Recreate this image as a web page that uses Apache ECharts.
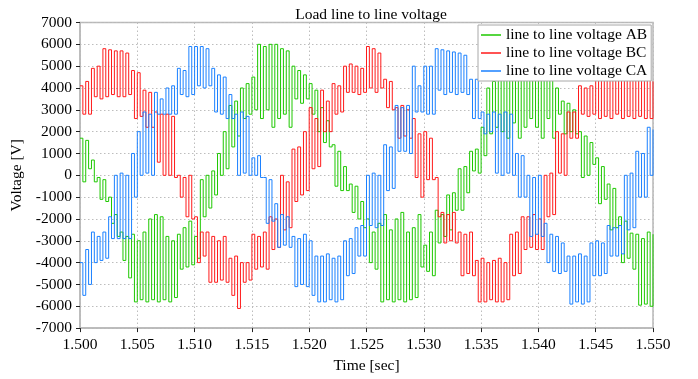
<!DOCTYPE html>
<html>
<head>
<meta charset="utf-8">
<script src="https://cdn.jsdelivr.net/npm/echarts@6/dist/echarts.min.js"></script>
<style>
  html, body { margin: 0; padding: 0; background: #fff; }
  #chart { width: 698px; height: 379px; }
</style>
</head>
<body>
<div id="chart"></div>
<script>
// Sampling of the switched waveforms: one value every 0.25 ms from 1.500 s
const T_START = 1.5;
const SAMPLE_STEP = 0.00025;

const seriesNames = ['line to line voltage AB', 'line to line voltage BC', 'line to line voltage CA'];
const seriesColors = ['#1ec800', '#ff1a1a', '#1a80ff'];

// Line to line voltage AB [V]
const vAB = [
  1700,-300, 1600,300, 700,-300, -100,-1100, -200,-1200, -1000,-2200, -1800,-2800, -2600,-3900, -2800,-4700, -2700,-5800,
  -3000,-5700, -2600,-5800, -2000,-5700, -1800,-5800, -1900,-5700, -2800,-5800, -3000,-5600, -2700,-4300, -2400,-4200, -2100,-4100,
  -2800,-3800, -200,-1900, 0,-1500, 200,-900, 1000,0, 2000,300, 3200,1300, 3400,1800, 4000,2600, 4200,2800,
  4500,3000, 6000,2600, 5900,3000, 6000,2200, 6000,2600, 5800,2800, 5700,2200, 5000,3500, 4800,3300, 4600,3500,
  4200,2800, 3900,2000, 3100,1500, 2500,1300, 1400,-500, 1100,-700, 400,-700, -400,-1700, -500,-2000, -1200,-2400,
  -2000,-4000, -2600,-4300, -2200,-5800, -1800,-5700, -2500,-5800, -2000,-5700, -1700,-5800, -2600,-5700, -2400,-5600, -1800,-4200,
  -3200,-4400, -2600,-4600, -1600,-3100, -1800,-2800, -900,-2500, -800,-1600, 300,-1600, 400,-800, 1100,200, 1200,100,
  2200,900, 4000,1900, 4300,2200, 5800,2000, 6000,1700, 5900,2400, 6000,1700, 5800,2200, 5900,2600, 5000,2200,
  4800,1700, 4400,2600, 4400,1700, 4000,2800, 3400,1900, 3300,2000, 3000,1900, 2000,-100, 1800,0, 1500,500,
  800,-1300, 400,-1100, -400,-2500, -600,-2400, -1900,-4000, -2100,-3800, -2650,-4300, -2700,-5950, -2900,-5900, -2600,-6000,
  -2700
];

// Line to line voltage BC [V]
const vBC = [
  4100,2800, 4300,2800, 4900,3600, 5000,3500, 5800,3600, 5750,3700, 5700,3600, 5700,3600, 5600,3700, 4800,2600,
  4700,2700, 3900,2200, 3800,2200, 2900,600, 2800,0, 2800,0, 2700,-100, 0,-1000, -100,-1900, 0,-2000,
  -1900,-4000, -2600,-3700, -2600,-4900, -2800,-4900, -3000,-4800, -2800,-4900, -3800,-5500, -3700,-6100, -4000,-4900, -4000,-4800,
  -2700,-4300, -2800,-4200, -2600,-4300, -1900,-3400, -2000,-3300, 0,-2500, -300,-2400, 1200,-1200, 1300,-900, 2000,-700,
  3100,300, 2600,400, 3900,2000, 3400,2000, 4200,2800, 4100,2900, 5000,3800, 5100,3800, 5000,3700, 4900,3800,
  5900,4000, 5800,3800, 5600,4000, 4400,3100, 4300,3000, 3100,1700, 3200,1800, 3000,1700, 2600,-100, 1900,-1000,
  2000,-200, 1700,-200, -100,-1900, -1700,-3100, -1800,-3000, -1700,-3100, -2600,-4600, -2700,-4500, -2600,-4600, -3900,-5800,
  -3800,-5800, -4000,-5700, -3900,-5800, -3800,-5800, -4000,-5700, -2700,-4600, -2600,-4500, -1900,-3400, -1900,-3300, -1800,-3400,
  -2000,-3400, 0,-1900, 100,-1800, 2000,100, 1900,0, 2900,1700, 2900,1700, 4100,2800, 4000,2700, 4100,2800,
  5800,2600, 5700,2700, 5800,2600, 5700,2800, 5600,2600, 5000,2700, 4900,2600, 4500,2700, 4500,2600, 4400,2600,
  4300
];

// Line to line voltage CA [V]
const vCA = [
  -4000,-5500, -3400,-5000, -2600,-4000, -2800,-3900, -2600,-3800, -1900,-2900, 0,-2900, 100,-2900, 0,-2900, 1000,-1000,
  2000,0, 2900,100, 2800,0, 3800,2800, 3500,2800, 4000,2800, 4100,2800, 4900,3700, 4800,3600, 5900,3700,
  5900,4100, 5900,4000, 5800,4100, 4900,2900, 4600,2800, 4500,2600, 3700,2600, 2800,0, 2900,100, 2700,0,
  800,0, 900,-100, -100,-2200, -200,-2100, -1300,-3300, -1800,-3200, -1900,-3300, -2800,-5100, -2900,-5000, -2700,-5100,
  -3000,-5500, -3700,-5800, -3700,-5800, -3600,-5700, -3800,-5800, -3700,-5700, -3000,-4600, -2900,-4500, -2400,-3700, -2300,-3700,
  0,-2300, 100,-2400, 0,-2300, 1400,-700, 1300,-600, 3200,1100, 3100,1100, 3200,1000, 5000,2900, 4100,2900,
  5000,2800, 5000,2800, 5800,3900, 5750,3700, 5700,3800, 5650,3700, 5600,3800, 5500,3700, 4400,2600, 4400,2600,
  2900,1900, 2800,2000, 2900,100, 2800,0, 2900,100, 2800,0, 1000,-1000, 900,-1000, 0,-2800, -100,-2700,
  0,-2800, -2200,-4000, -2700,-4400, -2800,-4500, -3100,-4400, -3700,-5900, -3700,-5800, -3600,-5900, -3700,-5800, -3100,-4600,
  -3000,-4600, -3100,-4500, -2300,-3700, -2400,-3700, -2300,-3600, 0,-2500, 100,-2400, 1100,-1000, 1000,-1000, 2200,0,
  2100
];

const FONT = 'Liberation Serif';
const FONT_SIZE = 15.5;

// Pair each sample with its time stamp
function withTime(values) {
  return values.map((v, i) => [+(T_START + i * SAMPLE_STEP).toFixed(5), v]);
}

const chart = echarts.init(document.getElementById('chart'), null, { renderer: 'canvas' });

chart.setOption({
  animation: false,
  backgroundColor: '#fff',
  title: {
    text: 'Load line to line voltage',
    left: 366,
    top: 2,
    textAlign: 'center',
    textStyle: { fontFamily: FONT, fontSize: FONT_SIZE, fontWeight: 'normal', color: '#000' }
  },
  legend: {
    data: seriesNames,
    left: 478,
    top: 25,
    orient: 'vertical',
    icon: 'rect',
    itemWidth: 20,
    itemHeight: 1.5,
    itemGap: 2,
    padding: [2, 4, 2, 3],
    backgroundColor: '#fff',
    borderColor: '#a8a8a8',
    borderWidth: 1,
    textStyle: { fontFamily: FONT, fontSize: FONT_SIZE, color: '#000' }
  },
  grid: {
    left: 80,
    right: 45,
    top: 22.5,
    bottom: 45.5,
    show: true,
    borderColor: '#b8b8b8',
    borderWidth: 1.5,
    backgroundColor: 'transparent'
  },
  xAxis: {
    type: 'value',
    min: 1.5,
    max: 1.55,
    interval: 0.005,
    name: 'Time [sec]',
    nameLocation: 'middle',
    nameGap: 25,
    nameTextStyle: { fontFamily: FONT, fontSize: FONT_SIZE, color: '#000' },
    axisLine: { show: true, onZero: false, lineStyle: { color: '#b8b8b8', width: 1.5 } },
    axisTick: { show: true, length: 4, lineStyle: { color: '#222' } },
    axisLabel: {
      formatter: v => v.toFixed(3),
      margin: 9,
      fontFamily: FONT, fontSize: FONT_SIZE, color: '#000'
    },
    splitLine: { show: true, lineStyle: { type: [1.5, 2.5], color: '#bdbdbd', width: 1 } }
  },
  yAxis: {
    type: 'value',
    min: -7000,
    max: 7000,
    interval: 1000,
    name: 'Voltage [V]',
    nameLocation: 'middle',
    nameRotate: 90,
    nameGap: 40,
    nameTextStyle: { fontFamily: FONT, fontSize: FONT_SIZE, color: '#000' },
    axisLine: { show: true, onZero: false, lineStyle: { color: '#b8b8b8', width: 1.5 } },
    axisTick: { show: true, length: 4, lineStyle: { color: '#222' } },
    axisLabel: {
      formatter: v => String(v),
      margin: 8,
      fontFamily: FONT, fontSize: FONT_SIZE, color: '#000'
    },
    splitLine: { show: true, lineStyle: { type: [1.5, 2.5], color: '#bdbdbd', width: 1 } }
  },
  series: [vAB, vBC, vCA].map((vals, k) => ({
    name: seriesNames[k],
    type: 'line',
    data: withTime(vals),
    step: 'end',
    showSymbol: false,
    symbol: 'none',
    silent: true,
    color: seriesColors[k],
    lineStyle: { color: seriesColors[k], width: 1 }
  }))
});
</script>
</body>
</html>
